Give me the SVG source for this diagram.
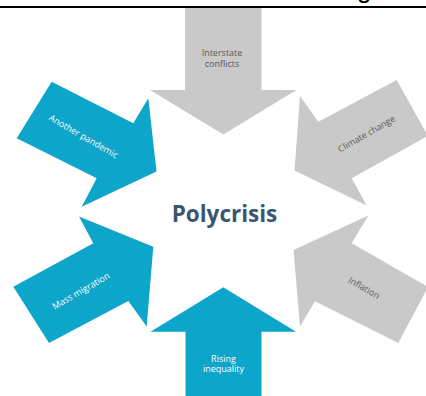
<svg xmlns="http://www.w3.org/2000/svg" width="426" height="396" viewBox="0 0 426 396">
  <style>
    .blue { fill: #0ea5ca; }
    .gray { fill: #c9c9c9; }
    .lbl { font-family: "Open Sans", "Liberation Sans", sans-serif; font-size: 9px; text-anchor: middle; }
    .dark { fill: #595959; }
    .light { fill: #ffffff; }
    .title { font-family: "Open Sans", "Liberation Sans", sans-serif; font-size: 22.5px; font-weight: bold; fill: #3a5670; text-anchor: middle; }
  </style>
  <rect width="426" height="396" fill="#ffffff"/>
  <g id="header">
    <rect x="0" y="6" width="426" height="2" fill="#000000"/>
    <text x="357" y="-2" font-family="Liberation Sans, Arial, sans-serif" font-size="26" fill="#000000">g</text>
  </g>
  <g id="node-interstate">
    <polygon class="gray" points="185,8 261.5,8 261.5,90 296.5,90 223.3,134.5 150,90 185,90"/>
    <text class="lbl dark" x="222" y="56">Interstate<tspan x="222" dy="10.5">conflicts</tspan></text>
  </g>
  <g id="node-climate">
    <polygon class="gray" points="396.7,80 428,136 351.7,178.3 366.7,205.5 294.5,170.5 300,96 318.3,121.7"/>
    <text class="lbl dark" transform="translate(366.5,134) rotate(-30)" y="3">Climate change</text>
  </g>
  <g id="node-inflation">
    <polygon class="gray" points="368.3,215.5 293.5,250 300,326.5 315,301.2 398.3,343 428,287 351.7,243.3"/>
    <text class="lbl dark" transform="translate(364,288) rotate(30)" y="3">Inflation</text>
  </g>
  <g id="node-rising">
    <polygon class="blue" points="185.5,396 261.5,396 261.5,331.7 296,331.7 223.3,287.3 150.5,331.7 185.5,331.7"/>
    <text class="lbl light" x="223.5" y="362">Rising<tspan x="223.5" dy="10">inequality</tspan></text>
  </g>
  <g id="node-mass">
    <polygon class="blue" points="13.3,286.7 93.3,243.3 79,216.5 153.3,246.7 146.7,326.5 128.3,301 49,343"/>
    <text class="lbl light" transform="translate(81,291) rotate(-30)" y="3">Mass migration</text>
  </g>
  <g id="node-pandemic">
    <polygon class="blue" points="51.7,81.7 133.3,123.3 148.3,98.3 156.5,171.5 81.7,206.7 96.7,178.3 16.7,138.3"/>
    <text class="lbl light" transform="translate(83.5,136.5) rotate(30)" y="3">Another pandemic</text>
  </g>
  <g id="node-polycrisis">
    <text class="title" x="224.5" y="222">Polycrisis</text>
  </g>
  <g id="connectors"/>
</svg>
